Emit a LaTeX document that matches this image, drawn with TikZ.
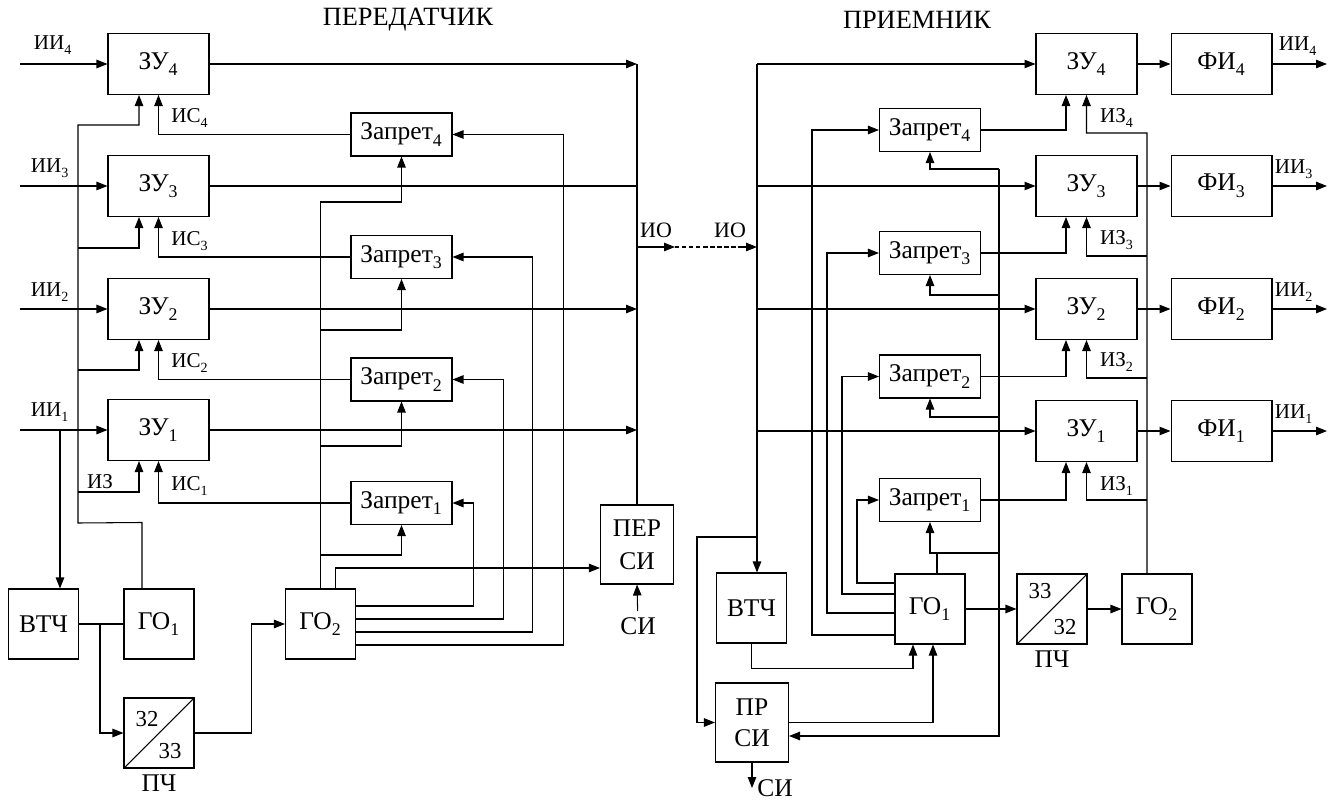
\documentclass[tikz,border=0pt]{standalone}
\usepackage{fontspec}
\setmainfont{Liberation Serif}
\usepackage{tikz}
\usetikzlibrary{arrows.meta,positioning,calc}
\newcommand{\ix}[1]{\textsubscript{\raisebox{-0.35ex}{#1}}}

\begin{document}
\begin{tikzpicture}[x=0.02cm, y=-0.02cm, line width=0.6pt,
    font=\fontsize{14.5}{16}\selectfont,
    >={Triangle[length=0.22cm,width=0.17cm]},
    blk/.style={draw, minimum width=2.02cm, minimum height=1.22cm, inner sep=0pt},
    zap/.style={draw, minimum width=2.02cm, minimum height=0.86cm, inner sep=0pt},
    sq/.style={draw, minimum width=1.4cm, minimum height=1.4cm, inner sep=0pt},
    two/.style={draw, minimum width=1.46cm, minimum height=1.58cm, inner sep=0pt,
      align=center, font=\fontsize{14.5}{19}\selectfont},
    lbl/.style={font=\fontsize{12}{14}\selectfont, inner sep=0pt},
    num/.style={font=\fontsize{13}{15}\selectfont, inner sep=0pt}]
    \useasboundingbox (0,0) rectangle (1338,801);

    % transmitter
    \node[font=\fontsize{15}{17}\selectfont] (ttitle) at (408,20) {ПЕРЕДАТЧИК};
    \node[blk] (tzu4) at (158.5,64) {ЗУ\ix{4}};
    \node[blk] (tzu3) at (158.5,186) {ЗУ\ix{3}};
    \node[blk] (tzu2) at (158.5,309) {ЗУ\ix{2}};
    \node[blk] (tzu1) at (158.5,430) {ЗУ\ix{1}};
    \node[zap] (tzap4) at (401.5,134.5) {Запрет\ix{4}};
    \node[zap] (tzap3) at (401.5,257) {Запрет\ix{3}};
    \node[zap] (tzap2) at (401.5,379.5) {Запрет\ix{2}};
    \node[zap] (tzap1) at (401.5,503) {Запрет\ix{1}};
    \node[sq] (tvtch) at (43.5,624) {ВТЧ};
    \node[sq] (tgo1) at (159,624) {ГО\ix{1}};
    \node[sq] (tpch) at (159,733) {};
    \node[sq] (tgo2) at (320.5,624) {ГО\ix{2}};
    \node[two] (tper) at (637,544.5) {ПЕР\\СИ};
    \node (tsi) at (638,626) {СИ};
    \node[num] (tpchn) at (147,719) {32};
    \node[num] (tpchd) at (170,751) {33};
    \node[below=0pt of tpch] (tpchl) {ПЧ};
    \draw (tpch.south west) -- (tpch.north east);

    \node[lbl] (tii4) at (53,45) {ИИ\ix{4}};
    \node[lbl] (tii3) at (50,168) {ИИ\ix{3}};
    \node[lbl] (tii2) at (50,292) {ИИ\ix{2}};
    \node[lbl] (tii1) at (50,412) {ИИ\ix{1}};
    \node[lbl] (tis4) at (190,118) {ИС\ix{4}};
    \node[lbl] (tis3) at (190,241) {ИС\ix{3}};
    \node[lbl] (tis2) at (190,363) {ИС\ix{2}};
    \node[lbl] (tis1) at (190,486) {ИС\ix{1}};
    \node[lbl] (tiz) at (100,482) {ИЗ};

    \coordinate (tin4) at (20,64);
    \coordinate (tin3) at (20,186);
    \coordinate (tin2) at (20,309);
    \coordinate (tin1) at (20,430);
    \coordinate (tsplit) at (60,430);
    \coordinate (tout) at (637,247);
    \coordinate (tio) at (675,247);

    \draw[->] (tin4) -- (tzu4);
    \draw[->] (tin3) -- (tzu3);
    \draw[->] (tin2) -- (tzu2);
    \draw[->] (tin1) -- (tzu1);

    \draw[->] ([xshift=-0.34cm]tgo1.north) -- ++(0,-66) -- (78,523) -- (78,125)
      -| ([xshift=-0.39cm]tzu4.south);
    \draw[->] (78,248) -| ([xshift=-0.39cm]tzu3.south);
    \draw[->] (78,370) -| ([xshift=-0.39cm]tzu2.south);
    \draw[->] (78,492) -| ([xshift=-0.39cm]tzu1.south);

    \draw[->] (tzap4.west) -| (tzu4.south);
    \draw[->] (tzap3.west) -| (tzu3.south);
    \draw[->] (tzap2.west) -| (tzu2.south);
    \draw[->] (tzap1.west) -| (tzu1.south);

    \draw[->] (tgo2.north) -- (320.5,202) -| (tzap4.south);
    \draw[->] (320.5,330) -| (tzap3.south);
    \draw[->] (320.5,446) -| (tzap2.south);
    \draw[->] (320.5,555) -| (tzap1.south);
    \draw[->] ([xshift=0.3cm]tgo2.north) |- ([yshift=-0.47cm]tper.west);

    \draw[->] ([yshift=0.36cm]tgo2.east) -| ([xshift=0.42cm]tzap1.east) -- (tzap1.east);
    \draw[->] ([yshift=0.1cm]tgo2.east) -| ([xshift=1.02cm]tzap2.east) -- (tzap2.east);
    \draw[->] ([yshift=-0.16cm]tgo2.east) -| ([xshift=1.6cm]tzap3.east) -- (tzap3.east);
    \draw[->] ([yshift=-0.42cm]tgo2.east) -| ([xshift=2.22cm]tzap4.east) -- (tzap4.east);

    \draw[->] (tzu4.east) -- (tzu4.east -| tout);
    \draw (tzu3.east) -- (tzu3.east -| tout);
    \draw[->] (tzu2.east) -- (tzu2.east -| tout);
    \draw[->] (tzu1.east) -- (tzu1.east -| tout);
    \draw (tper.north) -- (tzu4.east -| tout);
    \draw[->] (tsi) -- (tper.south);

    \draw[->] (tsplit) -- (tsplit |- tvtch.north);
    \draw (tvtch.east) -- (tgo1.west);
    \draw[->] (100,624) |- (tpch.west);
    \draw[->] (tpch.east) -- ++(57,0) |- (tgo2.west);

    % line
    \coordinate (rio) at (740,247);
    \coordinate (rin) at (757,247);
    \coordinate (rtap) at (757,537);
    \node[font=\fontsize{12.5}{14}\selectfont] (tiol) at (656,230) {ИО};
    \node[font=\fontsize{12.5}{14}\selectfont] (riol) at (730,230) {ИО};
    \draw[->] (tout) -- (tio);
    \draw[dash pattern=on 2.5pt off 1.5pt] (tio) -- (rio);
    \draw[->] (rio) -- (rin);

    % receiver
    \node[font=\fontsize{15}{17}\selectfont] (rtitle) at (917,20) {ПРИЕМНИК};
    \node[blk] (rzu4) at (1086.5,64) {ЗУ\ix{4}};
    \node[blk] (rzu3) at (1086.5,186) {ЗУ\ix{3}};
    \node[blk] (rzu2) at (1086.5,309) {ЗУ\ix{2}};
    \node[blk] (rzu1) at (1086.5,431) {ЗУ\ix{1}};
    \node[blk] (rfi4) at (1221.5,64) {ФИ\ix{4}};
    \node[blk] (rfi3) at (1221.5,186) {ФИ\ix{3}};
    \node[blk] (rfi2) at (1221.5,309) {ФИ\ix{2}};
    \node[blk] (rfi1) at (1221.5,431) {ФИ\ix{1}};
    \node[zap] (rzap4) at (930,130) {Запрет\ix{4}};
    \node[zap] (rzap3) at (930,253) {Запрет\ix{3}};
    \node[zap] (rzap2) at (930,376.5) {Запрет\ix{2}};
    \node[zap] (rzap1) at (930,500) {Запрет\ix{1}};
    \node[sq] (rvtch) at (751.5,608) {ВТЧ};
    \node[sq] (rgo1) at (930,609) {ГО\ix{1}};
    \node[sq] (rpch) at (1052,609) {};
    \node[sq] (rgo2) at (1157,609) {ГО\ix{2}};
    \node[two, font=\fontsize{14.5}{17.5}\selectfont] (rprsi) at (752,722.5) {ПР\\СИ};
    \node (rsi) at (775,788) {СИ};
    \node[num] (rpchn) at (1040,591) {33};
    \node[num] (rpchd) at (1065,627) {32};
    \node[below=0pt of rpch] (rpchl) {ПЧ};
    \draw (rpch.south west) -- (rpch.north east);

    \node[lbl] (rii4) at (1298,46) {ИИ\ix{4}};
    \node[lbl] (rii3) at (1294,169) {ИИ\ix{3}};
    \node[lbl] (rii2) at (1294,292) {ИИ\ix{2}};
    \node[lbl] (rii1) at (1294,414) {ИИ\ix{1}};
    \node[lbl] (riz4) at (1117,118) {ИЗ\ix{4}};
    \node[lbl] (riz3) at (1117,240) {ИЗ\ix{3}};
    \node[lbl] (riz2) at (1117,362) {ИЗ\ix{2}};
    \node[lbl] (riz1) at (1117,486) {ИЗ\ix{1}};

    \coordinate (rout4) at (1327,64);
    \coordinate (rout3) at (1327,186);
    \coordinate (rout2) at (1327,309);
    \coordinate (rout1) at (1327,431);

    \draw (rin) -- (rin |- rzu4.west);
    \draw[->] (rin |- rzu4.west) -- (rzu4.west);
    \draw[->] (rin |- rzu4.west) -- (rin |- rvtch.north);
    \draw[->] (rin |- rzu3.west) -- (rzu3.west);
    \draw[->] (rin |- rzu2.west) -- (rzu2.west);
    \draw[->] (rin |- rzu1.west) -- (rzu1.west);
    \draw[->] (rtap) -- (697,537) |- (rprsi.west);

    \draw[->] (rzu4) -- (rfi4);
    \draw[->] (rzu3) -- (rfi3);
    \draw[->] (rzu2) -- (rfi2);
    \draw[->] (rzu1) -- (rfi1);
    \draw[->] (rfi4) -- (rout4);
    \draw[->] (rfi3) -- (rout3);
    \draw[->] (rfi2) -- (rout2);
    \draw[->] (rfi1) -- (rout1);

    \draw[->] (rzap4.east) -| ([xshift=-0.41cm]rzu4.south);
    \draw[->] (rzap3.east) -| ([xshift=-0.41cm]rzu3.south);
    \draw[->] (rzap2.east) -| ([xshift=-0.41cm]rzu2.south);
    \draw[->] (rzap1.east) -| ([xshift=-0.41cm]rzu1.south);

    \draw[->] ([xshift=-0.2cm]rgo2.north) -- (1147,133) -| (rzu4.south);
    \draw[->] (1147,256) -| (rzu3.south);
    \draw[->] (1147,378) -| (rzu2.south);
    \draw[->] (1147,500) -| (rzu1.south);

    \draw[->] ([yshift=-0.52cm]rgo1.west) -| ([xshift=-1.34cm]rzap4.west) -- (rzap4.west);
    \draw[->] ([yshift=-0.08cm]rgo1.west) -| ([xshift=-1.04cm]rzap3.west) -- (rzap3.west);
    \draw[->] ([yshift=0.3cm]rgo1.west) -| ([xshift=-0.74cm]rzap2.west) -- (rzap2.west);
    \draw[->] ([yshift=0.52cm]rgo1.west) -| ([xshift=-0.44cm]rzap1.west) -- (rzap1.west);

    \draw[->] (999,169) -| (rzap4.south);
    \draw[->] (999,295) -| (rzap3.south);
    \draw[->] (999,417) -| (rzap2.south);
    \draw[->] (999,553) -| (rzap1.south);
    \draw[->] (999,169) |- ([yshift=-0.27cm]rprsi.east);
    \draw ([xshift=0.14cm]rgo1.north) -- ++(0,-21);

    \draw[->] (rprsi.east) -| ([xshift=0.06cm]rgo1.south);
    \draw[->] (rvtch.south) -- ++(0,25) -| ([xshift=-0.34cm]rgo1.south);
    \draw[->] (rgo1) -- (rpch);
    \draw[->] (rpch) -- (rgo2);
    \draw[->] (rprsi.south) -- (rprsi.south |- rsi);
\end{tikzpicture}
\end{document}
